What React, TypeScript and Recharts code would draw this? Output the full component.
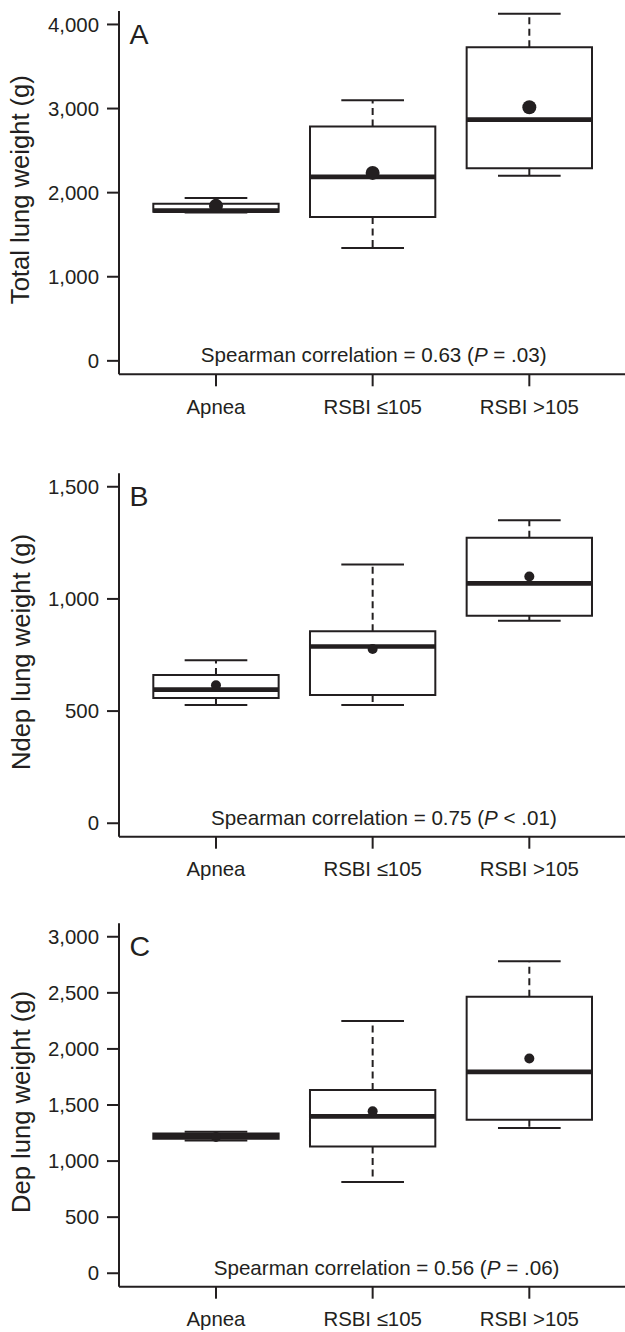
import React from 'react';
import { ComposedChart, Line, Scatter, XAxis, YAxis } from 'recharts';

const categories = ['Apnea', 'RSBI ≤105', 'RSBI >105'];

// Panel A: total lung weight (g)
const totalMin = [1765, 1342, 2202];
const totalQ1 = [1772, 1711, 2289];
const totalMedian = [1786, 2187, 2869];
const totalQ3 = [1869, 2786, 3730];
const totalMax = [1937, 3099, 4127];
const totalMean = [1843, 2235, 3015];
const totalTicks = [0, 1000, 2000, 3000, 4000];

// Panel B: non-dependent lung weight (g)
const ndepMin = [527, 527, 903];
const ndepQ1 = [558, 572, 925];
const ndepMedian = [596, 788, 1069];
const ndepQ3 = [661, 856, 1273];
const ndepMax = [727, 1153, 1351];
const ndepMean = [615, 777, 1100];
const ndepTicks = [0, 500, 1000, 1500];

// Panel C: dependent lung weight (g)
const depMin = [1184, 814, 1294];
const depQ1 = [1200, 1131, 1369];
const depMedian = [1222, 1399, 1795];
const depQ3 = [1245, 1634, 2466];
const depMax = [1262, 2249, 2782];
const depMean = [1215, 1444, 1914];
const depTicks = [0, 500, 1000, 1500, 2000, 2500, 3000];

// Spearman annotations
const spearmanCoef = ['0.63', '0.75', '0.56'];
const spearmanP = ['= .03', '< .01', '= .06'];

const INK = '#231f20';
const FONT = '"Liberation Sans", Arial, Helvetica, sans-serif';
const X_DOMAIN: [number, number] = [0.381, 3.619];
const BOX_HALF = 0.4;
const CAP_HALF = 0.2;

type Pt = { x: number; y: number | null };

function boxOutline(q1: number[], q3: number[]): Pt[] {
  return q1.flatMap((lo, i) => {
    const x = i + 1;
    const hi = q3[i];
    return [
      { x: x - BOX_HALF, y: lo },
      { x: x + BOX_HALF, y: lo },
      { x: x + BOX_HALF, y: hi },
      { x: x - BOX_HALF, y: hi },
      { x: x - BOX_HALF, y: lo },
      { x, y: null },
    ];
  });
}

function medianLines(med: number[]): Pt[] {
  return med.flatMap((m, i) => {
    const x = i + 1;
    return [
      { x: x - BOX_HALF, y: m },
      { x: x + BOX_HALF, y: m },
      { x, y: null },
    ];
  });
}

function whiskerLines(min: number[], q1: number[], q3: number[], max: number[]): Pt[] {
  return min.flatMap((lo, i) => {
    const x = i + 1;
    return [
      { x, y: q3[i] },
      { x, y: max[i] },
      { x, y: null },
      { x, y: q1[i] },
      { x, y: lo },
      { x, y: null },
    ];
  });
}

function capLines(min: number[], max: number[]): Pt[] {
  return min.flatMap((lo, i) => {
    const x = i + 1;
    return [
      { x: x - CAP_HALF, y: max[i] },
      { x: x + CAP_HALF, y: max[i] },
      { x, y: null },
      { x: x - CAP_HALF, y: lo },
      { x: x + CAP_HALF, y: lo },
      { x, y: null },
    ];
  });
}

function meanPoints(mean: number[]): Pt[] {
  return mean.map((m, i) => ({ x: i + 1, y: m }));
}

const fmt = (v: number) => v.toLocaleString('en-US');

type PanelProps = {
  letter: string;
  title: string;
  min: number[];
  q1: number[];
  med: number[];
  q3: number[];
  max: number[];
  mean: number[];
  ticks: number[];
  domain: [number, number];
  top: number;
  height: number;
  marginTop: number;
  marginBottom: number;
  dotR: number;
  coef: string;
  pText: string;
  noteX: number;
};

function Panel(p: PanelProps) {
  const outline = boxOutline(p.q1, p.q3);
  const medians = medianLines(p.med);
  const whiskers = whiskerLines(p.min, p.q1, p.q3, p.max);
  const caps = capLines(p.min, p.max);
  const means = meanPoints(p.mean);
  const note = [{ x: p.noteX, y: 0 }];

  const renderYLabel = (props: any) => {
    const vb = props && props.viewBox ? props.viewBox : {};
    const x0 = typeof vb.x === 'number' ? vb.x : 0;
    const y0 = typeof vb.y === 'number' ? vb.y : p.marginTop;
    const w = typeof vb.width === 'number' ? vb.width : 119;
    const h = typeof vb.height === 'number' ? vb.height : 363.4;
    const tx = x0 + 29.5;
    const ty = y0 + h / 2 - 3;
    return (
      <g>
        <text
          x={tx}
          y={ty}
          transform={`rotate(-90 ${tx} ${ty})`}
          textAnchor="middle"
          fontSize={25.6}
          fontFamily={FONT}
          fill={INK}
        >
          {p.title}
        </text>
        <text x={x0 + w + 10.5} y={y0 + 32.7} fontSize={28.5} fontFamily={FONT} fill={INK}>
          {p.letter}
        </text>
      </g>
    );
  };

  return (
    <div
      style={{
        position: 'absolute',
        left: 0,
        top: p.top,
        width: 625,
        height: p.height,
        overflow: 'hidden',
      }}
    >
      <ComposedChart
        width={640}
        height={p.height}
        margin={{ top: p.marginTop, right: 13.7, bottom: p.marginBottom, left: 0 }}
      >
        <XAxis
          xAxisId="bottom"
          type="number"
          dataKey="x"
          domain={X_DOMAIN}
          allowDataOverflow
          ticks={[1, 2, 3]}
          interval={0}
          tickFormatter={(v: number) => categories[Math.round(v) - 1] ?? ''}
          tickSize={12}
          tickMargin={13}
          height={40}
          axisLine={{ stroke: INK, strokeWidth: 2 }}
          tickLine={{ stroke: INK, strokeWidth: 2 }}
          tick={{ fill: INK, fontSize: 20.4, fontFamily: FONT }}
        />
        <XAxis
          xAxisId="top"
          orientation="top"
          type="number"
          dataKey="x"
          domain={X_DOMAIN}
          allowDataOverflow
          tick={false}
          tickLine={false}
          height={0}
          axisLine={{ stroke: INK, strokeWidth: 2 }}
        />
        <YAxis
          type="number"
          dataKey="y"
          domain={p.domain}
          allowDataOverflow
          ticks={p.ticks}
          interval={0}
          tickFormatter={fmt}
          width={119}
          tickSize={12}
          tickMargin={8}
          axisLine={{ stroke: INK, strokeWidth: 2 }}
          tickLine={{ stroke: INK, strokeWidth: 2 }}
          tick={{ fill: INK, fontSize: 20.4, fontFamily: FONT }}
          label={{ content: renderYLabel }}
        />
        <Line
          xAxisId="bottom"
          data={whiskers}
          dataKey="y"
          type="linear"
          stroke={INK}
          strokeWidth={2}
          strokeDasharray="7 4.5"
          dot={false}
          activeDot={false}
          connectNulls={false}
          isAnimationActive={false}
          legendType="none"
        />
        <Line
          xAxisId="bottom"
          data={caps}
          dataKey="y"
          type="linear"
          stroke={INK}
          strokeWidth={2}
          dot={false}
          activeDot={false}
          connectNulls={false}
          isAnimationActive={false}
          legendType="none"
        />
        <Line
          xAxisId="bottom"
          data={outline}
          dataKey="y"
          type="linear"
          stroke={INK}
          strokeWidth={2}
          strokeLinecap="square"
          strokeLinejoin="miter"
          dot={false}
          activeDot={false}
          connectNulls={false}
          isAnimationActive={false}
          legendType="none"
        />
        <Line
          xAxisId="bottom"
          data={medians}
          dataKey="y"
          type="linear"
          stroke={INK}
          strokeWidth={4.7}
          dot={false}
          activeDot={false}
          connectNulls={false}
          isAnimationActive={false}
          legendType="none"
        />
        <Scatter
          xAxisId="bottom"
          data={means}
          dataKey="y"
          isAnimationActive={false}
          legendType="none"
          shape={(sp: any) => <circle cx={sp.cx} cy={sp.cy} r={p.dotR} fill={INK} />}
        />
        <Scatter
          xAxisId="bottom"
          data={note}
          dataKey="y"
          isAnimationActive={false}
          legendType="none"
          shape={(sp: any) => (
            <text
              x={sp.cx}
              y={sp.cy + 1.5}
              textAnchor="middle"
              fontSize={20.6}
              fontFamily={FONT}
              fill={INK}
            >
              {`Spearman correlation = ${p.coef} (`}
              <tspan fontStyle="italic">P</tspan>
              {` ${p.pText})`}
            </text>
          )}
        />
      </ComposedChart>
    </div>
  );
}

export default function App() {
  return (
    <div
      style={{
        position: 'absolute',
        left: 0,
        top: 0,
        width: 625,
        height: 1332,
        background: '#ffffff',
        overflow: 'hidden',
      }}
    >
      <Panel
        letter="A"
        title="Total lung weight (g)"
        min={totalMin}
        q1={totalQ1}
        med={totalMedian}
        q3={totalQ3}
        max={totalMax}
        mean={totalMean}
        ticks={totalTicks}
        domain={[-160, 4160]}
        top={0}
        height={440}
        marginTop={11}
        marginBottom={25.7}
        dotR={7}
        coef={spearmanCoef[0]}
        pText={spearmanP[0]}
        noteX={2.007}
      />
      <Panel
        letter="B"
        title="Ndep lung weight (g)"
        min={ndepMin}
        q1={ndepQ1}
        med={ndepMedian}
        q3={ndepQ3}
        max={ndepMax}
        mean={ndepMean}
        ticks={ndepTicks}
        domain={[-60, 1560]}
        top={440}
        height={440}
        marginTop={33.3}
        marginBottom={3.3}
        dotR={5}
        coef={spearmanCoef[1]}
        pText={spearmanP[1]}
        noteX={2.072}
      />
      <Panel
        letter="C"
        title="Dep lung weight (g)"
        min={depMin}
        q1={depQ1}
        med={depMedian}
        q3={depQ3}
        max={depMax}
        mean={depMean}
        ticks={depTicks}
        domain={[-120, 3120]}
        top={880}
        height={452}
        marginTop={43.3}
        marginBottom={5.3}
        dotR={5}
        coef={spearmanCoef[2]}
        pText={spearmanP[2]}
        noteX={2.089}
      />
    </div>
  );
}
